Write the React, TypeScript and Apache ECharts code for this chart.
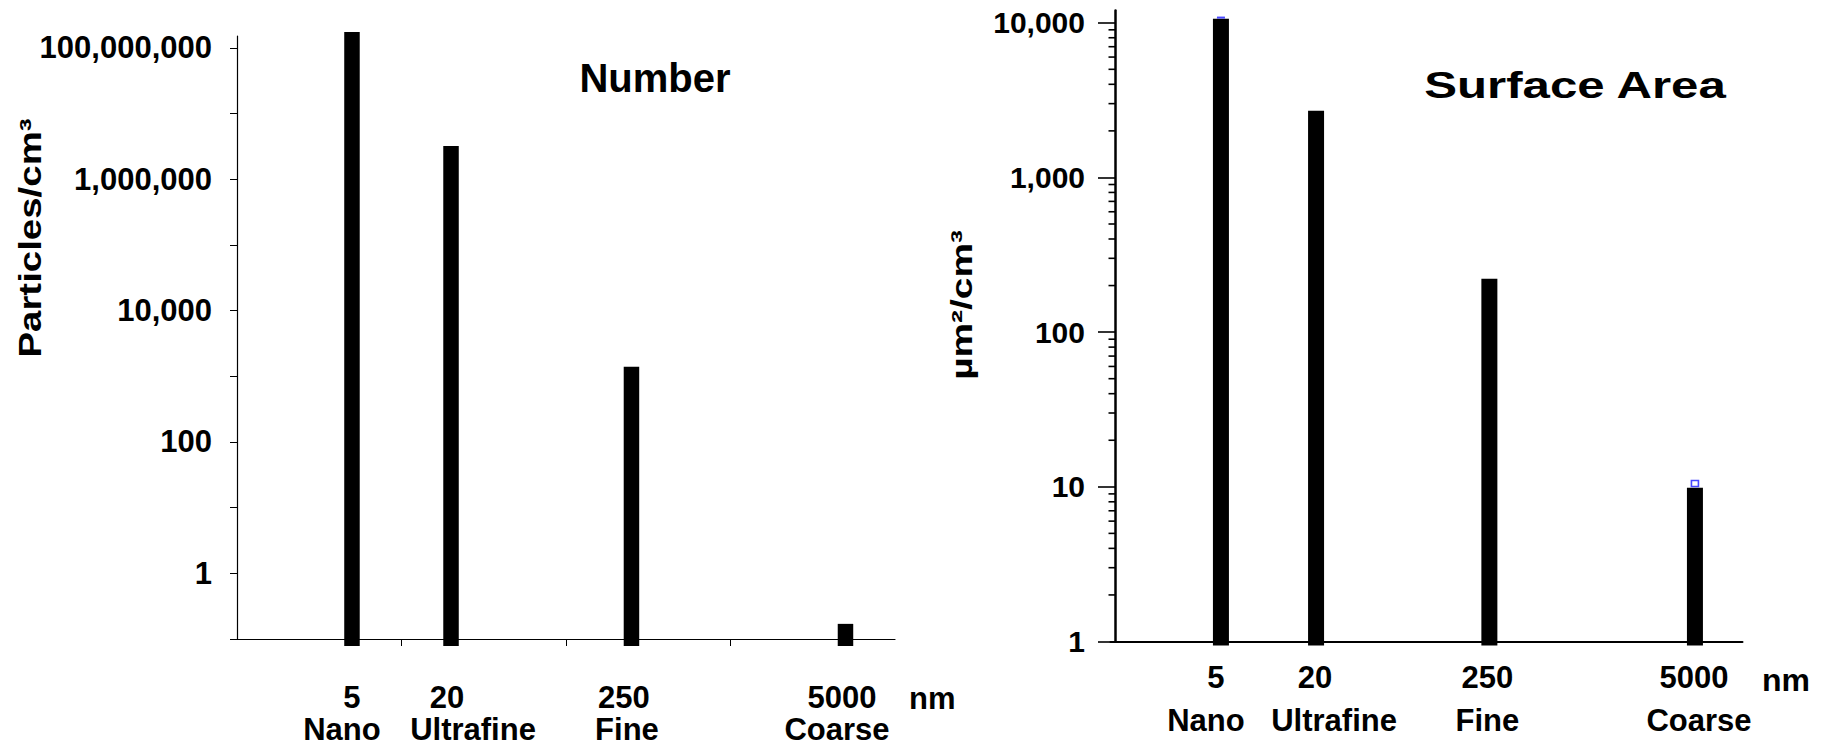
import React, { useEffect, useRef } from 'react';
import * as echarts from 'echarts';

// ---------- data ----------
const sizeNm = [5, 20, 250, 5000];
const sizeClass = ['Nano', 'Ultrafine', 'Fine', 'Coarse'];
const numberValues = [175000000, 3200000, 1400, 0.17];
const surfaceValues = [10600, 2700, 221, 9.85];
const numberTickValues = [0.1, 1, 10, 100, 1000, 10000, 100000, 1000000, 10000000, 100000000];
const numberLabelValues = [1, 100, 10000, 1000000, 100000000];
const sizeTickValues = [1, 10, 100, 1000, 10000];
const surfaceMajorValues = [1, 10, 100, 1000, 10000];
const surfaceMinorValues = [
  2, 3, 4, 5, 6, 7, 8, 9,
  20, 30, 40, 50, 60, 70, 80, 90,
  200, 300, 400, 500, 600, 700, 800, 900,
  2000, 3000, 4000, 5000, 6000, 7000, 8000, 9000,
];
const surfaceMarkers = [
  [5, 10800],
  [5000, 10.5],
];

// ---------- styling / layout ----------
const FONT = "'Liberation Sans', Arial, Helvetica, sans-serif";
const markerSizes = [[8, 2], [7, 6]];
const markerStyles = [
  { color: '#1a1aff', borderWidth: 0 },
  { color: 'rgba(0,0,0,0)', borderColor: '#1a1aff', borderWidth: 1.5 },
];
const leftNumOff = [0, -4, -7.5, -3.5];
const leftNameOff = [-10, 22, -4.5, -8.5];
const rightNumOff = [-5, -1, -2, -1];
const rightNameOff = [-15, 18, -2, 4];
const RIGHT_Y_OFFSET = 4.5;
const MINOR_TICK_LEN = 6.5;

// label anchors: axis ends (blank, hidden) + the four sizes
const sizeLabelValues = [sizeTickValues[0], ...sizeNm, sizeTickValues[sizeTickValues.length - 1]];

function shiftPad(dx: number) {
  return dx >= 0 ? [0, 0, 0, 2 * dx] : [0, -2 * dx, 0, 0];
}

function makeRich(numOff: number[], nameOff: number[], lineHeight: number, fontSize: number) {
  const rich: any = {};
  sizeNm.forEach((_, i) => {
    rich['n' + i] = {
      fontSize, fontWeight: 'bold', fontFamily: FONT, color: '#000', lineHeight,
      padding: shiftPad(numOff[i]),
    };
    rich['t' + i] = {
      fontSize, fontWeight: 'bold', fontFamily: FONT, color: '#000', lineHeight,
      padding: shiftPad(nameOff[i]),
    };
  });
  return rich;
}

function matchIndex(v: number) {
  let best = -1;
  let bd = 0.02;
  sizeNm.forEach((s, i) => {
    const d = Math.abs(Math.log10(v) - Math.log10(s));
    if (d < bd) { bd = d; best = i; }
  });
  return best;
}

const sizeLabel = (v: number) => {
  const i = matchIndex(v);
  if (i < 0) return '';
  return `{n${i}|${sizeNm[i]}}\n{t${i}|${sizeClass[i]}}`;
};

const commaLabel = (v: number) => Math.round(v).toLocaleString('en-US');

const makeBarRenderer = (baseValue: number, barWidth: number, overhang: number) =>
  (params: any, api: any) => {
    const x = api.value(0);
    const v = api.value(1);
    const top = api.coord([x, v]);
    const base = api.coord([x, baseValue]);
    return {
      type: 'rect',
      shape: { x: top[0] - barWidth / 2, y: top[1], width: barWidth, height: base[1] - top[1] + overhang },
      style: { fill: '#000' },
    };
  };

function unitName(dy: number, fontSize: number) {
  return {
    name: '{u|nm}',
    nameLocation: 'end',
    nameMoveOverlap: false,
    nameTextStyle: {
      align: 'left',
      verticalAlign: 'middle',
      rich: {
        u: {
          fontSize, fontWeight: 'bold', fontFamily: FONT, color: '#000',
          lineHeight: fontSize, padding: [2 * dy, 0, 0, 0],
        },
      },
    },
  };
}

const textStyle = (text: string, font: string) => ({
  text, font, fill: '#000',
  align: 'center', verticalAlign: 'middle', textAlign: 'center', textVerticalAlign: 'middle',
});

const baseGraphic: any[] = [
  { id: 'title-number', type: 'text', x: 655, y: 78, style: textStyle('Number', `bold 40px ${FONT}`) },
  { id: 'title-surface', type: 'text', x: 1575, y: 85, scaleX: 1.33, style: textStyle('Surface Area', `bold 37px ${FONT}`) },
  {
    id: 'yname-number', type: 'text', x: 30, y: 238, rotation: Math.PI / 2, scaleX: 1.24,
    style: textStyle('Particles/cm³', `bold 31px ${FONT}`),
  },
  {
    id: 'yname-surface', type: 'text', x: 962, y: 305, rotation: Math.PI / 2, scaleX: 1.34,
    style: textStyle('µm²/cm³', `bold 29px ${FONT}`),
  },
];

function buildOption(): any {
  const axisLineBlack = (w: number) => ({ show: true, onZero: false, lineStyle: { color: '#000', width: w } });
  return {
    animation: false,
    backgroundColor: '#fff',
    grid: [
      { left: 237, top: 36, width: 658, height: 603, outerBoundsMode: 'none', containLabel: false },
      { left: 1110.5, top: 10.5, width: 632, height: 631, outerBoundsMode: 'none', containLabel: false },
    ],
    xAxis: [
      {
        type: 'log', logBase: 10, gridIndex: 0, min: 1, max: 10000,
        axisLine: axisLineBlack(1.2),
        axisTick: { show: true, length: 7, inside: false, customValues: sizeTickValues, lineStyle: { color: '#000', width: 1 } },
        axisLabel: {
          show: true, customValues: sizeLabelValues, formatter: sizeLabel, margin: 42,
          rich: makeRich(leftNumOff, leftNameOff, 32, 31), color: '#000',
          showMinLabel: false, showMaxLabel: false, hideOverlap: false,
        },
        splitLine: { show: false },
        minorTick: { show: false },
        nameGap: 14,
        ...unitName(59, 31),
      },
      {
        type: 'log', logBase: 10, gridIndex: 1, min: 1, max: 10000,
        axisLine: axisLineBlack(2),
        axisTick: { show: false },
        axisLabel: {
          show: true, customValues: sizeLabelValues, formatter: sizeLabel, margin: 14.5,
          rich: makeRich(rightNumOff, rightNameOff, 43, 31), color: '#000',
          showMinLabel: false, showMaxLabel: false, hideOverlap: false,
        },
        splitLine: { show: false },
        minorTick: { show: false },
        nameGap: 19.5,
        ...unitName(38.5, 32),
      },
    ],
    yAxis: [
      {
        type: 'log', logBase: 10, gridIndex: 0, position: 'left', min: 0.1, max: 152000000,
        axisLine: axisLineBlack(1.2),
        axisTick: { show: true, length: 7, inside: false, customValues: numberTickValues, lineStyle: { color: '#000', width: 1 } },
        axisLabel: {
          show: true, customValues: numberLabelValues, formatter: commaLabel, margin: 25,
          fontSize: 31, fontWeight: 'bold', fontFamily: FONT, color: '#000',
          showMinLabel: true, showMaxLabel: true, hideOverlap: false,
        },
        splitLine: { show: false },
        minorTick: { show: false },
      },
      {
        type: 'log', logBase: 10, gridIndex: 1, position: 'left', min: 1, max: 12000, offset: -RIGHT_Y_OFFSET,
        axisLine: axisLineBlack(2.5),
        axisTick: { show: true, length: 17, inside: false, customValues: surfaceMajorValues, lineStyle: { color: '#000', width: 1.6 } },
        axisLabel: {
          show: true, customValues: surfaceMajorValues, formatter: commaLabel, margin: 30,
          fontSize: 30, fontWeight: 'bold', fontFamily: FONT, color: '#000',
          showMinLabel: true, showMaxLabel: true, hideOverlap: false,
        },
        splitLine: { show: false },
        minorTick: { show: false },
      },
    ],
    series: [
      {
        type: 'custom', name: 'Number', xAxisIndex: 0, yAxisIndex: 0, clip: false,
        renderItem: makeBarRenderer(0.1, 15.5, 7),
        encode: { x: 0, y: 1 },
        data: sizeNm.map((s, i) => [s, numberValues[i]]),
      },
      {
        type: 'custom', name: 'Surface Area', xAxisIndex: 1, yAxisIndex: 1, clip: false,
        renderItem: makeBarRenderer(1, 16, 4),
        encode: { x: 0, y: 1 },
        data: sizeNm.map((s, i) => [s, surfaceValues[i]]),
      },
      {
        type: 'scatter', name: 'markers', xAxisIndex: 1, yAxisIndex: 1, symbol: 'rect', silent: true, clip: false,
        data: surfaceMarkers.map((p, i) => ({ value: p, symbolSize: markerSizes[i], itemStyle: markerStyles[i] })),
      },
    ],
    graphic: { elements: baseGraphic },
  };
}

// minor ticks of the surface-area log axis, positioned by the axis scale itself
function minorTickGraphics(chart: any): any[] {
  const x0 = chart.convertToPixel({ xAxisIndex: 1 }, sizeTickValues[0]);
  if (typeof x0 !== 'number' || !isFinite(x0)) return [];
  const axisX = x0 + RIGHT_Y_OFFSET;
  const out: any[] = [];
  surfaceMinorValues.forEach((v, i) => {
    const y = chart.convertToPixel({ yAxisIndex: 1 }, v);
    if (typeof y !== 'number' || !isFinite(y)) return;
    out.push({
      id: 'minor-tick-' + i,
      type: 'rect',
      z: 100,
      silent: true,
      shape: { x: axisX - MINOR_TICK_LEN, y: y - 0.8, width: MINOR_TICK_LEN, height: 1.6 },
      style: { fill: '#000' },
    });
  });
  return out;
}

export default function App() {
  const ref = useRef<HTMLDivElement>(null);
  useEffect(() => {
    if (!ref.current) return;
    const chart = echarts.init(ref.current, null, { renderer: 'svg' });
    chart.setOption(buildOption());
    try {
      const ticks = minorTickGraphics(chart);
      if (ticks.length) {
        chart.setOption({ graphic: { elements: [...baseGraphic, ...ticks] } });
      }
    } catch (e) {
      // leave the chart as is
    }
    return () => chart.dispose();
  }, []);
  return (
    <div
      ref={ref}
      style={{ position: 'fixed', left: 0, top: 0, width: 1833, height: 748, background: '#fff' }}
    />
  );
}
